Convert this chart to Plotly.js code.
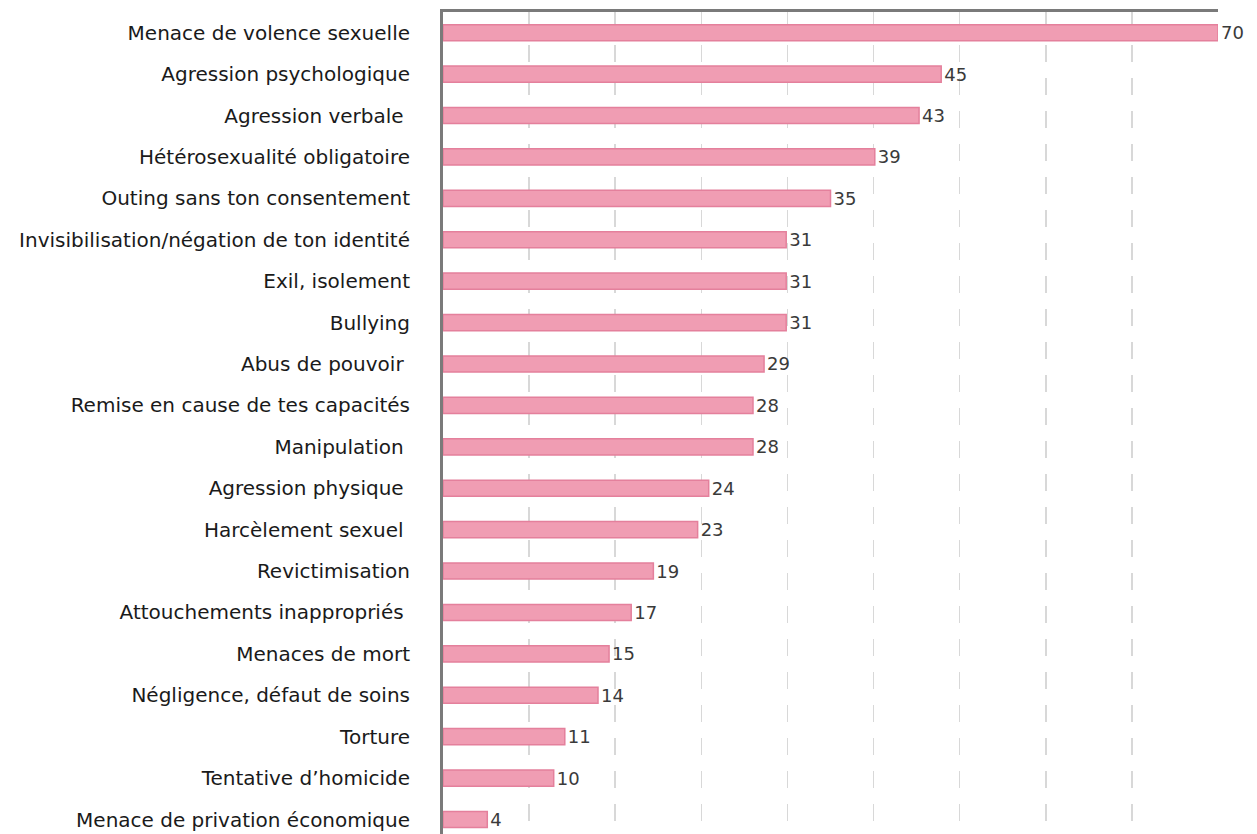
<!DOCTYPE html>
<html><head><meta charset="utf-8">
<script src="https://cdn.plot.ly/plotly-3.0.1.min.js"></script>
<style>html,body{margin:0;padding:0;background:#fff;}#chart{width:1257px;height:834px;}</style>
</head><body><div id="chart"></div>
<script>
const categories = [
  "Menace de volence sexuelle",
  "Agression psychologique",
  "Agression verbale ",
  "Hétérosexualité obligatoire",
  "Outing sans ton consentement",
  "Invisibilisation/négation de ton identité",
  "Exil, isolement",
  "Bullying",
  "Abus de pouvoir ",
  "Remise en cause de tes capacités",
  "Manipulation ",
  "Agression physique ",
  "Harcèlement sexuel ",
  "Revictimisation",
  "Attouchements inappropriés ",
  "Menaces de mort",
  "Négligence, défaut de soins",
  "Torture",
  "Tentative d’homicide",
  "Menace de privation économique"
];
const values = [70, 45, 43, 39, 35, 31, 31, 31, 29, 28, 28, 24, 23, 19, 17, 15, 14, 11, 10, 4];

const trace = {
  type: 'bar',
  orientation: 'h',
  y: categories,
  x: values,
  text: values.map(String),
  textposition: 'outside',
  constraintext: 'none',
  cliponaxis: false,
  textfont: {family: 'DejaVu Sans', size: 18, color: '#3a3a3a'},
  marker: {color: '#f09db3', line: {color: '#e4809c', width: 1.5}},
  width: 0.39,
  hoverinfo: 'none'
};

const layout = {
  width: 1257, height: 834,
  margin: {l: 443, r: 39, t: 12, b: 0},
  paper_bgcolor: '#ffffff', plot_bgcolor: '#ffffff',
  showlegend: false,
  xaxis: {
    side: 'top', range: [0, 70], dtick: 70/9, tick0: 0,
    showticklabels: false, ticks: '',
    showgrid: true, gridcolor: '#d8d8d8', gridwidth: 1.5, griddash: '17px,16px',
    showline: true, linecolor: '#7a7a7a', linewidth: 3,
    zeroline: false, fixedrange: true
  },
  yaxis: {
    type: 'category', range: [19.35, -0.5],
    showline: true, linecolor: '#7a7a7a', linewidth: 3,
    ticks: '', ticklabelstandoff: 26,
    tickfont: {family: 'DejaVu Sans', size: 20, color: '#1a1a1a'},
    showgrid: false, zeroline: false, fixedrange: true
  }
};

Plotly.newPlot('chart', [trace], layout, {displayModeBar: false, staticPlot: true});
</script>
</body></html>
